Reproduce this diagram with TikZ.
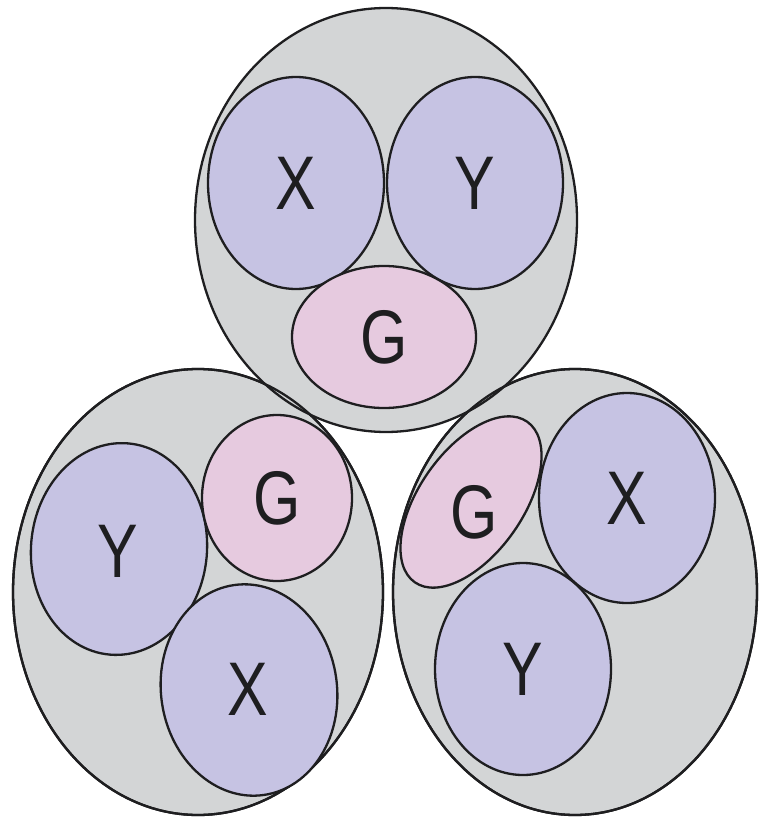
\documentclass[tikz,border=0pt]{standalone}
\usepackage{fontspec}
\usepackage{tikz}
\usetikzlibrary{shapes.geometric}
\newfontfamily\cellfont[FakeStretch=0.8]{Liberation Sans}
\definecolor{cellgray}{RGB}{211,213,214}
\definecolor{cellblue}{RGB}{198,195,227}
\definecolor{cellpink}{RGB}{230,202,223}
\definecolor{cellline}{RGB}{30,30,32}

\begin{document}
\begin{tikzpicture}[
  x=1pt, y=-1pt,
  cell/.style={ellipse, draw=cellline, line width=2.3pt, inner sep=0pt, font=\cellfont\fontsize{76}{76}\selectfont, text=cellline},
  bigcell/.style={cell, fill=cellgray},
  xycell/.style={cell, fill=cellblue, minimum width=176pt, minimum height=212pt},
  gcell/.style={cell, fill=cellpink},
  lbl/.style={inner sep=0pt, font=\cellfont\fontsize{76}{76}\selectfont, text=cellline},
  rim/.style={draw=cellline, line width=2.3pt}
]
  \useasboundingbox (0,0) rectangle (759,818);
  % outer cells
  \node[bigcell, minimum width=370pt, minimum height=446pt] (bl) at (198,592) {};
  \node[bigcell, minimum width=364pt, minimum height=446pt] (br) at (575,592) {};
  \node[bigcell, minimum width=382pt, minimum height=424pt] (top) at (386,220) {};
  % rims of the lower cells show through the top one
  \draw[rim] (bl.center) ellipse [x radius=185, y radius=223];
  \draw[rim] (br.center) ellipse [x radius=182, y radius=223];
  % top cell
  \node[xycell] (topX) at (296,183) {X};
  \node[xycell] (topY) at (475,183) {Y};
  \node[gcell, minimum width=184pt, minimum height=142pt] (topG) at (384,337) {G};
  % bottom left cell
  \node[xycell, rotate=-5] (blY) at (119,549) {};
  \node[lbl] (blYl) at (118,551) {Y};
  \node[gcell, minimum width=150pt, minimum height=166pt] (blG) at (277,498) {G};
  \node[xycell, rotate=8] (blX) at (249,690) {};
  \node[lbl] (blXl) at (248,689) {X};
  % bottom right cell
  \node[gcell, minimum width=196pt, minimum height=104pt, rotate=55] (brG) at (471,502) {};
  \node[lbl] (brGl) at (474,512) {G};
  \node[xycell, minimum height=210pt] (brX) at (627,498) {X};
  \node[xycell] (brY) at (523,669) {Y};
\end{tikzpicture}
\end{document}
